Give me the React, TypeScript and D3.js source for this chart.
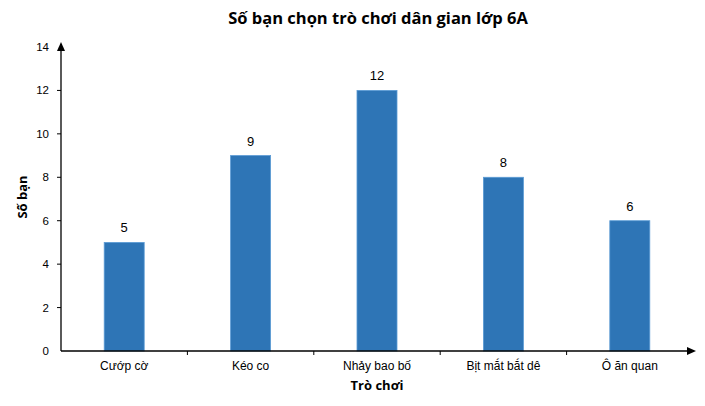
import React, { useEffect, useRef } from 'react';
import * as d3 from 'd3';

const categories = ['Cướp cờ', 'Kéo co', 'Nhảy bao bố', 'Bịt mắt bắt dê', 'Ô ăn quan'];
const values = [5, 9, 12, 8, 6];
const yTicks = [0, 2, 4, 6, 8, 10, 12, 14];

const W = 705;
const H = 406;
const margin = { top: 47, right: 12, bottom: 55, left: 61 };

const App: React.FC = () => {
  const svgRef = useRef<SVGSVGElement>(null);

  useEffect(() => {
    if (!svgRef.current) return;
    const svg = d3.select(svgRef.current);
    svg.selectAll('*').remove();

    const x0 = margin.left;
    const xEnd = 693;
    const y0 = H - margin.bottom; // 351

    const x = d3.scaleBand<string>().domain(categories).range([x0, xEnd]).paddingInner(0).paddingOuter(0);
    const y = d3.scaleLinear().domain([0, 14]).range([y0, margin.top]);

    const font = 'Liberation Sans, Arial, sans-serif';

    // title
    svg.append('text')
      .attr('x', 378).attr('y', 24)
      .attr('text-anchor', 'middle')
      .attr('font-family', 'Open Sans, sans-serif')
      .attr('font-weight', 'bold')
      .attr('font-size', 16.5)
      .attr('fill', '#000')
      .text('Số bạn chọn trò chơi dân gian lớp 6A');

    // bars
    const barW = 40;
    svg.selectAll('rect.bar')
      .data(values)
      .join('rect')
      .attr('class', 'bar')
      .attr('x', (_, i) => x(categories[i])! + x.bandwidth() / 2 - barW / 2)
      .attr('y', d => y(d))
      .attr('width', barW)
      .attr('height', d => y(0) - y(d))
      .attr('fill', '#2E75B6')
      .attr('stroke', '#5B9BD5')
      .attr('stroke-width', 0.8);

    // value labels
    svg.selectAll('text.val')
      .data(values)
      .join('text')
      .attr('class', 'val')
      .attr('x', (_, i) => x(categories[i])! + x.bandwidth() / 2)
      .attr('y', d => y(d) - 10)
      .attr('text-anchor', 'middle')
      .attr('font-family', font)
      .attr('font-size', 13)
      .attr('fill', '#000')
      .text(d => String(d));

    // y axis
    const yAxis = svg.append('g').attr('transform', `translate(${x0},0)`);
    yAxis.append('line')
      .attr('x1', 0).attr('x2', 0).attr('y1', y(0)).attr('y2', 44)
      .attr('stroke', '#000').attr('stroke-width', 1.3);
    yAxis.append('path')
      .attr('d', 'M0,42 L-4,51 L4,51 Z')
      .attr('fill', '#000');
    yTicks.forEach(t => {
      if (t > 0 && t < 14) {
        yAxis.append('line')
          .attr('x1', -4).attr('x2', 0).attr('y1', y(t)).attr('y2', y(t))
          .attr('stroke', '#000').attr('stroke-width', 1);
      }
      yAxis.append('text')
        .attr('x', -12).attr('y', y(t) + 4)
        .attr('text-anchor', 'end')
        .attr('font-family', font)
        .attr('font-size', 11.5)
        .attr('fill', '#000')
        .text(String(t));
    });

    // x axis
    const xAxis = svg.append('g');
    xAxis.append('line')
      .attr('x1', x0).attr('x2', xEnd).attr('y1', y0).attr('y2', y0)
      .attr('stroke', '#000').attr('stroke-width', 1.3);
    xAxis.append('path')
      .attr('d', `M${xEnd + 3},${y0} L${xEnd - 6},${y0 - 4} L${xEnd - 6},${y0 + 4} Z`)
      .attr('fill', '#000');
    categories.forEach((c, i) => {
      const bx = x(c)!;
      if (i > 0) {
        xAxis.append('line')
          .attr('x1', bx).attr('x2', bx).attr('y1', y0).attr('y2', y0 + 4)
          .attr('stroke', '#000').attr('stroke-width', 1);
      }
      xAxis.append('text')
        .attr('x', bx + x.bandwidth() / 2).attr('y', y0 + 19)
        .attr('text-anchor', 'middle')
        .attr('font-family', font)
        .attr('font-size', 12)
        .attr('fill', '#000')
        .text(c);
    });

    // axis titles
    svg.append('text')
      .attr('x', 377).attr('y', 390)
      .attr('text-anchor', 'middle')
      .attr('font-family', 'Open Sans, sans-serif')
      .attr('font-weight', 'bold')
      .attr('font-size', 13)
      .attr('fill', '#000')
      .text('Trò chơi');

    svg.append('text')
      .attr('transform', `translate(27,197) rotate(-90)`)
      .attr('text-anchor', 'middle')
      .attr('font-family', 'Open Sans, sans-serif')
      .attr('font-weight', 'bold')
      .attr('font-size', 13)
      .attr('fill', '#000')
      .text('Số bạn');
  }, []);

  return (
    <svg
      ref={svgRef}
      width={W}
      height={H}
      style={{ position: 'absolute', left: 0, top: 0, background: '#fff' }}
    />
  );
};

export default App;
